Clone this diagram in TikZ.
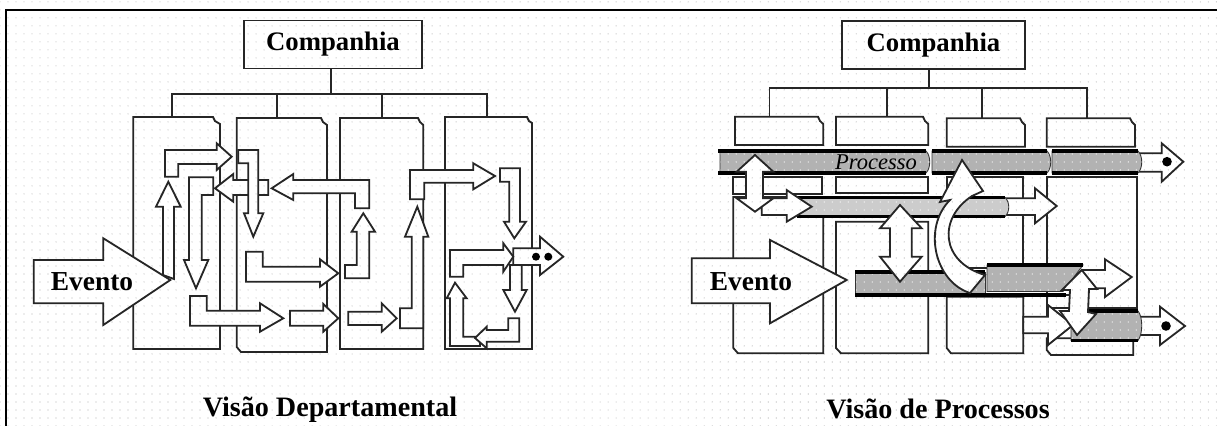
\documentclass[tikz,border=0pt]{standalone}
\usepackage{fontspec}
\setmainfont{Liberation Serif}
\usetikzlibrary{patterns.meta}

\begin{document}
\begin{tikzpicture}[x=0.025cm,y=-0.025cm,
  dotgrid/.style={pattern={Dots[distance=2mm,radius=.4pt]},pattern color=black!30},
  outline/.style={draw=black!85,line width=1.3pt,line join=miter},
  dept/.style={outline},
  blockarrow/.style={outline,preaction={fill=white},dotgrid},
  procbar/.style={draw=black!80,line width=.6pt,preaction={fill=black!30},pattern={Dots[distance=2mm,radius=.45pt]},pattern color=white},
  barline/.style={line width=2.2pt,black},
  org/.style={outline,preaction={fill=white},dotgrid,inner sep=0pt,
    font=\bfseries\fontsize{19}{22}\selectfont,minimum height=1.2cm},
  link/.style={draw=black!85,line width=1.3pt},
  lbl/.style={font=\bfseries\fontsize{19.5}{22}\selectfont,inner sep=0pt},
  caption/.style={font=\bfseries\fontsize{20}{24}\selectfont,inner sep=0pt,anchor=base}
]
\useasboundingbox (0,0) rectangle (1217,426);
\fill[white] (0,0) rectangle (1217,426);
\fill[dotgrid] (0,0) rectangle (1217,426);
\draw[line width=1.5pt] (6,426) -- (6,10) -- (1217,10);

% departmental view
\node[org,minimum width=4.44cm] (compL) at (333,44.5) {Companhia};
\coordinate (busL) at (331,94.3);
\coordinate (topL1) at (171.7,117);
\coordinate (topL2) at (276.7,118);
\coordinate (topL3) at (381.7,118);
\coordinate (topL4) at (486.7,117);
\draw[link] (compL.south -| busL) -- (busL);
\draw[link] (topL1) -- (topL1 |- busL) -- (topL4 |- busL) -- (topL4);
\draw[link] (topL2) -- (topL2 |- busL);
\draw[link] (topL3) -- (topL3 |- busL);

\draw[dept] (133.3,117) -- (213,117) -- (215,121) -- (220,124) -- (220,349) -- (133.3,349) -- cycle;
\draw[dept] (236.7,118) -- (321,118) -- (323,122) -- (327,125) -- (327,352) -- (241,352) -- (236.7,347) -- cycle;
\draw[dept] (340,118) -- (418,118) -- (420,122) -- (423.3,125) -- (423.3,349) -- (340,349) -- cycle;
\draw[dept] (445,117) -- (527,117) -- (529,121) -- (532,123) -- (532,349) -- (445,349) -- cycle;

\draw[blockarrow] (163,275) -- (163,206.7) -- (156,206.7) -- (168.3,181.7) -- (180.7,206.7) -- (174,206.7) -- (174,279) -- cycle;
\draw[blockarrow] (165,176.7) -- (165,150) -- (216.7,150) -- (216.7,143.3) -- (231.7,156.7) -- (216.7,170) -- (216.7,164) -- (178.3,164) -- (178.3,176.7) -- cycle;
\draw[blockarrow] (189,177.3) -- (213.3,177.3) -- (213.3,195) -- (201.7,195) -- (201.7,260) -- (208.3,260) -- (196,288.3) -- (184,260) -- (189,260) -- cycle;
\draw[blockarrow] (268.3,180) -- (268.3,195) -- (233.3,195) -- (233.3,201.7) -- (215,188.3) -- (233.3,174) -- (233.3,180) -- cycle;
\draw[blockarrow] (238.3,150) -- (258.3,150) -- (258.3,213.3) -- (263.3,213.3) -- (253.3,236.7) -- (244,213.3) -- (248.3,213.3) -- (248.3,163.3) -- (238.3,163.3) -- cycle;
\draw[blockarrow] (271.7,188.3) -- (293.3,174) -- (293.3,180) -- (369.3,180) -- (369.3,208.3) -- (355,208.3) -- (355,193.3) -- (293.3,193.3) -- (293.3,200) -- cycle;
\draw[blockarrow] (345,265) -- (356.7,265) -- (356.7,231.7) -- (351.7,231.7) -- (363.3,213.3) -- (375,231.7) -- (369.3,231.7) -- (369.3,278.3) -- (345,278.3) -- cycle;
\draw[blockarrow] (246,251.7) -- (262.7,251.7) -- (262.7,266.7) -- (320,266.7) -- (320,259.3) -- (338.3,273.3) -- (320,286.7) -- (320,281.7) -- (246,281.7) -- cycle;
\draw[blockarrow] (190,296) -- (206.7,296) -- (206.7,310.7) -- (260,310.7) -- (260,303.3) -- (283.3,318.3) -- (260,331.7) -- (260,325.7) -- (190,325.7) -- cycle;
\draw[blockarrow] (290,310.7) -- (323.3,310.7) -- (323.3,304) -- (338.3,318.3) -- (323.3,331.7) -- (323.3,325.7) -- (290,325.7) -- cycle;
\draw[blockarrow] (348.3,311.7) -- (381.7,311.7) -- (381.7,303.3) -- (396.7,318.3) -- (381.7,331.7) -- (381.7,325) -- (348.3,325) -- cycle;
\draw[blockarrow] (400,308.3) -- (411.7,308.3) -- (411.7,236.7) -- (405,236.7) -- (417.3,206.7) -- (428.3,236.7) -- (423.3,236.7) -- (423.3,328.3) -- (400,328.3) -- cycle;
\draw[blockarrow] (410,170) -- (473.3,170) -- (473.3,163.3) -- (495,176) -- (473.3,189.3) -- (473.3,182.7) -- (424.3,182.7) -- (424.3,199.3) -- (410,199.3) -- cycle;
\draw[blockarrow] (500,168.3) -- (520,168.3) -- (520,221.7) -- (526,221.7) -- (514.3,238.3) -- (504,221.7) -- (509.3,221.7) -- (509.3,181.7) -- (500,181.7) -- cycle;
\draw[blockarrow] (510,265) -- (521.7,265) -- (521.7,290) -- (526.7,290) -- (515,311.7) -- (503.3,290) -- (510,290) -- cycle;
\draw[blockarrow] (513.3,248.3) -- (540,248.3) -- (540,236.7) -- (563.3,256.7) -- (540,275) -- (540,265) -- (513.3,265) -- cycle;
\fill (536,256.7) circle[radius=1mm] (548.3,256.7) circle[radius=1mm];
\draw[blockarrow] (450,250) -- (503.3,250) -- (503.3,243.3) -- (513.3,256.7) -- (503.3,271.7) -- (503.3,265) -- (463.3,265) -- (463.3,276.7) -- (450,276.7) -- cycle;
\draw[blockarrow] (450,346) -- (450,298.3) -- (446.7,298.3) -- (455,282.7) -- (466.7,298.3) -- (463.3,298.3) -- (463.3,336.7) -- (480,336.7) -- (480,346) -- cycle;
\draw[blockarrow] (508.3,318.3) -- (519.3,318.3) -- (519.3,341.7) -- (486.7,341.7) -- (486.7,348.3) -- (475,338) -- (486.7,326.7) -- (486.7,330) -- (508.3,330) -- cycle;

\draw[blockarrow] (33.7,260) -- (103.3,260) -- (103.3,238.3) -- (170.3,280) -- (103.3,325) -- (103.3,303.3) -- (33.7,303.3) -- cycle;
\node[lbl] (evL) at (92,282) {Evento};
\node[caption] (titL) at (330,416.7) {Visão Departamental};

% process view
\node[org,minimum width=4.58cm] (compR) at (933.5,45) {Companhia};
\coordinate (busR) at (928.6,88.3);
\coordinate (topR1) at (769.5,116.7);
\coordinate (topR2) at (886.7,116.7);
\coordinate (topR3) at (981.7,118.3);
\coordinate (topR4) at (1087,118.3);
\draw[link] (compR.south -| busR) -- (busR);
\draw[link] (topR1) -- (topR1 |- busR) -- (topR4 |- busR) -- (topR4);
\draw[link] (topR2) -- (topR2 |- busR);
\draw[link] (topR3) -- (topR3 |- busR);

\draw[dept] (735,116.7) -- (818,116.7) -- (820,121) -- (823.3,124) -- (823.3,145) -- (735,145) -- cycle;
\draw[dept] (836,116.7) -- (923,116.7) -- (925,121) -- (928.3,124) -- (928.3,145) -- (836,145) -- cycle;
\draw[dept] (946.7,118.3) -- (1020,118.3) -- (1022,122) -- (1025,125) -- (1025,146.7) -- (946.7,146.7) -- cycle;
\draw[dept] (1046.7,118.3) -- (1130,118.3) -- (1132,122) -- (1135,125) -- (1135,146.7) -- (1046.7,146.7) -- cycle;
\draw[dept] (733.3,176.7) rectangle (821.7,194);
\draw[dept] (836,176.7) rectangle (928.3,193.3);
\draw[dept] (946.7,176.7) rectangle (1023.3,268);
\draw[dept] (1046.7,176.7) rectangle (1136.7,308.3);
\draw[dept] (733.3,197) -- (823.3,197) -- (823.3,353.3) -- (738,353.3) -- (733.3,348) -- cycle;
\draw[dept] (836,221.7) -- (928.3,221.7) -- (928.3,353.3) -- (841,353.3) -- (836,348) -- cycle;
\draw[dept] (946.7,296.7) -- (1023.3,296.7) -- (1023.3,353.3) -- (951,353.3) -- (946.7,348) -- cycle;
\draw[dept] (1046.7,295) rectangle (1072,316.7);
\draw[dept] (1046.7,338.3) -- (1133.3,338.3) -- (1133.3,355) -- (1051,355) -- (1046.7,350) -- cycle;

\draw[blockarrow] (1136,153.3) -- (1161.7,153.3) -- (1161.7,143.3) -- (1183.3,161.7) -- (1161.7,181.7) -- (1161.7,171.7) -- (1136,171.7) -- cycle;
\fill (1167,161.7) circle[radius=1.2mm];
\draw[procbar] (720,151) -- (926,151) .. controls (931,156) and (931,168) .. (926,173) -- (720,173) -- cycle;
\draw[procbar] (932,151) -- (1047,151) .. controls (1052,156) and (1052,168) .. (1047,173) -- (932,173) -- cycle;
\draw[procbar] (1052,151) -- (1138,151) .. controls (1143,156) and (1143,168) .. (1138,173) -- (1052,173) -- cycle;
\draw[barline] (718,151) -- (926,151) (932,151) -- (1047,151) (1052,151) -- (1138,151);
\draw[barline] (718,173) -- (926,173) (932,173) -- (1047,173) (1052,173) -- (1138,173);
\node[font=\itshape\fontsize{16}{18}\selectfont,inner sep=0pt] (proc) at (876,162) {Processo};

\draw[blockarrow] (1003,198.3) -- (1035,198.3) -- (1035,188.3) -- (1056.7,206) -- (1035,223.3) -- (1035,215) -- (1003,215) -- cycle;
\draw[procbar,preaction={fill=black!20}] (797,197.5) -- (1005,197.5) .. controls (1010,202) and (1010,212) .. (1005,216.5) -- (797,216.5) -- cycle;
\draw[barline] (797,197.5) -- (1005,197.5) (797,216.5) -- (1005,216.5);

\draw[blockarrow] (761.7,198.3) -- (786.7,198.3) -- (786.7,190) -- (811.7,206.7) -- (786.7,221.7) -- (786.7,215) -- (761.7,215) -- cycle;
\draw[blockarrow] (755,155) -- (773.3,171.7) -- (763,171.7) -- (763,198.3) -- (773.3,198.3) -- (755,211.7) -- (736.7,198.3) -- (746,198.3) -- (746,171.7) -- (736.7,171.7) -- cycle;

\draw[blockarrow] (691.7,258.3) -- (770,258.3) -- (770,240) -- (846.7,280) -- (770,323.3) -- (770,303.3) -- (691.7,303.3) -- cycle;
\node[lbl] (evR) at (751,281.7) {Evento};

\draw[procbar] (855,272) -- (985,272) -- (985,295) -- (855,295) -- cycle;
\draw[barline] (855,272) -- (985,272) (855,295) -- (1066,295);
\draw[procbar] (987,265) -- (1083,265) -- (1063,291.5) -- (987,291.5) -- cycle;
\draw[barline] (987,265) -- (1083,265);

\draw[blockarrow] (900,205) -- (921.7,228.3) -- (911.7,228.3) -- (911.7,256.7) -- (921.7,256.7) -- (900,281.7) -- (880,256.7) -- (890,256.7) -- (890,228.3) -- (880,228.3) -- cycle;
\draw[blockarrow] (970,293) .. controls (935,282) and (922,228) .. (950,200) -- (940,202) -- (962,160) -- (983,191) -- (972,196) .. controls (938,218) and (940,262) .. (985,275) -- cycle;

\draw[blockarrow] (1083,270) -- (1105,270) -- (1105,259.3) -- (1131.7,277) -- (1105,297) -- (1105,288.3) -- (1083,288.3) -- cycle;
\draw[blockarrow] (1023.3,316.7) -- (1048,316.7) -- (1048,305) -- (1073,325) -- (1048,345) -- (1048,333.3) -- (1023.3,333.3) -- cycle;
\draw[blockarrow] (1136,316.7) -- (1160,316.7) -- (1160,306.7) -- (1185,326) -- (1160,345) -- (1160,335) -- (1136,335) -- cycle;
\fill (1166,326) circle[radius=1.2mm];
\draw[procbar] (1071,311) -- (1138,311) .. controls (1143,317) and (1143,334) .. (1138,340.5) -- (1071,340.5) -- cycle;
\draw[barline] (1071,311) -- (1138,311) (1071,340.5) -- (1138,340.5);
\draw[blockarrow] (1081.7,270) -- (1097,289) -- (1089,289) -- (1088,312) -- (1096,314) -- (1077,335) -- (1060,311) -- (1069,311) -- (1070,290) -- (1062,290) -- cycle;

\node[caption] (titR) at (938,418) {Visão de Processos};
\end{tikzpicture}
\end{document}
